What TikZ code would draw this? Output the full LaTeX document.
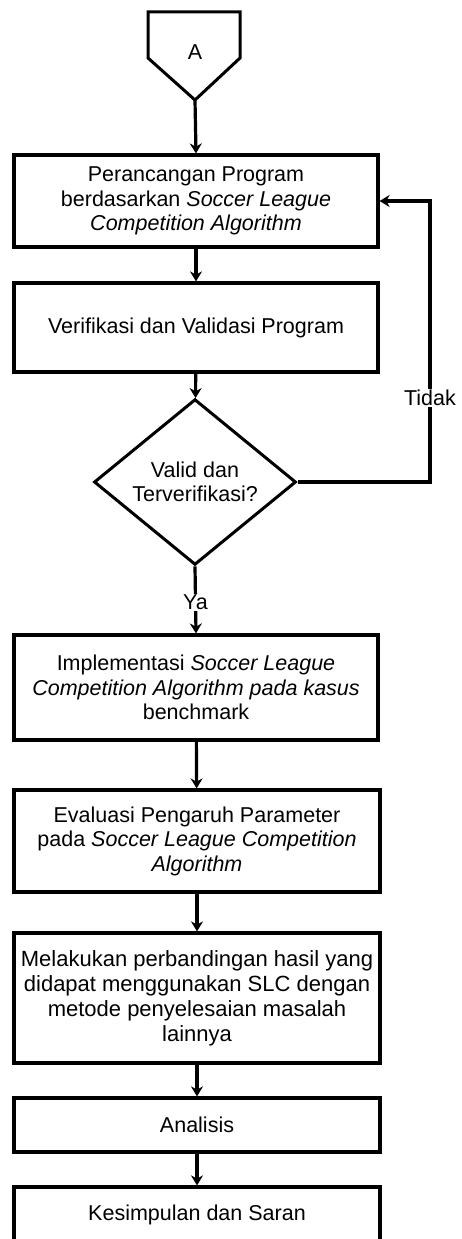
\documentclass[tikz,border=0pt]{standalone}
\usepackage{fontspec}
\setmainfont{Liberation Sans}
\usetikzlibrary{shapes.geometric,arrows.meta}
\begin{document}
\begin{tikzpicture}[x=1pt,y=-1pt,
  every node/.style={font=\fontsize{21.5}{24.5}\selectfont},
  procbox/.style={draw=black, line width=3.2pt, minimum width=364pt, align=center, inner sep=0pt, fill=white},
  decbox/.style={draw=black, line width=3pt, shape=diamond, minimum width=202pt, minimum height=143pt, align=center, inner sep=0pt},
  conn/.style={line width=3.2pt, -{Stealth[length=10pt,width=12pt]}},
  lbl/.style={fill=white, inner sep=1pt}
]
\useasboundingbox (0,0) rectangle (461,1239);
\clip (0,0) rectangle (461,1239);

% off-page connector
\draw[line width=3pt, line join=miter] (148,12) -- (240,12) -- (240,58) -- (195,100) -- (148,58) -- cycle;
\node (A) at (195,52) {A};
\coordinate (Atip) at (195,100);

\node[procbox, minimum height=92pt] (b1) at (196,201) {Perancangan Program\\berdasarkan \textit{Soccer League}\\\textit{Competition Algorithm}};
\node[procbox, minimum height=89pt] (b2) at (196,327.5) {Verifikasi dan Validasi Program};
\node[decbox] (dec) at (195,482) {Valid dan\\Terverifikasi?};
\node[procbox, minimum height=105pt] (b3) at (196,687.5) {Implementasi \textit{Soccer League}\\\textit{Competition Algorithm pada kasus}\\benchmark};
\node[procbox, minimum height=102pt, minimum width=366pt] (b4) at (197,841) {Evaluasi Pengaruh Parameter\\pada \textit{Soccer League Competition}\\\textit{Algorithm}};
\node[procbox, minimum height=130pt, minimum width=366pt, font=\fontsize{22}{25}\selectfont] (b5) at (197,998) {Melakukan perbandingan hasil yang\\didapat menggunakan SLC dengan\\metode penyelesaian masalah\\lainnya};
\node[procbox, minimum height=54pt, minimum width=366pt] (b6) at (197,1125) {Analisis};
\node[procbox, minimum height=56pt, minimum width=366pt] (b7) at (197,1215) {Kesimpulan dan Saran};

\coordinate (corner) at (430,482);

\draw[conn] (Atip) -- (b1.north);
\draw[conn] (b1) -- (b2);
\draw[conn] (b2) -- (dec);
\draw[conn] (dec.south) -- node[lbl, pos=0.54] {Ya} (b3.north);
\draw[conn] (dec.east) -- (corner) -- node[lbl, pos=0.3] {Tidak} (corner |- b1.east) -- (b1.east);
\draw[conn] (b3) -- (b4);
\draw[conn] (b4) -- (b5);
\draw[conn] (b5) -- (b6);
\draw[conn] (b6) -- (b7);
\end{tikzpicture}
\end{document}
